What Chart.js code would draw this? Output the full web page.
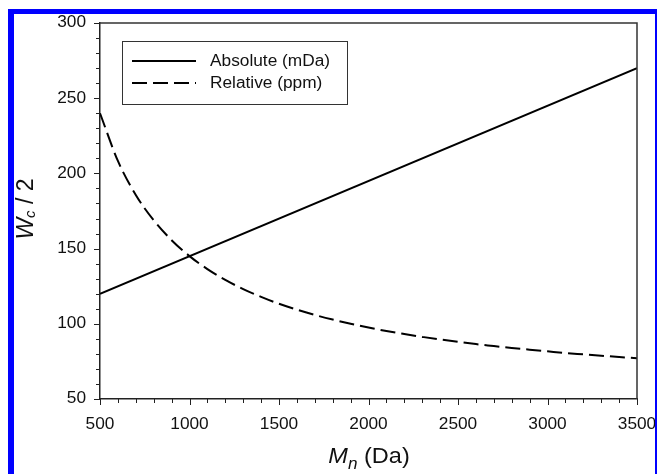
<!DOCTYPE html>
<html>
<head>
<meta charset="utf-8">
<script src="https://cdn.jsdelivr.net/npm/chart.js@4"></script>
<style>
  html, body { margin: 0; padding: 0; background: #fff; overflow: hidden; }
  #wrap { position: relative; width: 657px; height: 474px; }
  #frame {
    position: absolute; left: 8px; top: 9px; width: 641px; height: 480px;
    border-left: 6px solid #0000ff; border-top: 5px solid #0000ff; border-right: 2px solid #0000ff;
    pointer-events: none;
  }
</style>
</head>
<body>
<div id="wrap">
  <canvas id="chart" width="657" height="474"></canvas>
  <div id="frame"></div>
</div>
<script>
// mass values (Da)
const massAbs = [500, 3500];
const absolute = [120, 270]; // half width, mDa

const massRel = [500, 600, 700, 800, 900, 1000, 1100, 1200, 1300, 1400, 1500, 1600, 1700, 1800, 1900, 2000,
                 2100, 2200, 2300, 2400, 2500, 2600, 2700, 2800, 2900, 3000, 3100, 3200, 3300, 3400, 3500];
const relative = [240, 208.3, 185.7, 168.8, 155.6, 145, 136.4, 129.2, 123.1, 117.9, 113.3, 109.4, 105.9, 102.8, 100, 97.5,
                  95.2, 93.2, 91.3, 89.6, 88, 86.5, 85.2, 83.9, 82.8, 81.7, 80.6, 79.7, 78.8, 77.9, 77.1]; // ppm

const xTickLabels = [500, 1000, 1500, 2000, 2500, 3000, 3500];
const yTickLabels = [50, 100, 150, 200, 250, 300];
const legendLabels = ['Absolute (mDa)', 'Relative (ppm)'];

const FONT = 'Liberation Sans, Arial, sans-serif';
const STRETCH = 1.08; // text is drawn a bit wide

function toPoints(xs, ys) {
    return xs.map((x, i) => ({ x: x, y: ys[i] }));
}

function wideText(ctx, text, x, y, align, sx) {
    ctx.save();
    ctx.translate(x, y);
    ctx.scale(sx, 1);
    ctx.textAlign = align;
    ctx.fillText(text, 0, 0);
    ctx.restore();
}

// tick marks (major + minor), tick labels, axis titles and the boxed legend
const decorations = {
    id: 'decorations',
    afterDraw(chart) {
        const ctx = chart.ctx;
        const xs = chart.scales.x, ys = chart.scales.y;
        const area = chart.chartArea;
        ctx.save();
        ctx.strokeStyle = '#222';
        ctx.lineWidth = 1;
        ctx.beginPath();
        ys.ticks.forEach(t => {
            const py = Math.round(ys.getPixelForValue(t.value)) + 0.5;
            const len = t.value % 50 === 0 ? 6 : 4;
            ctx.moveTo(area.left - len, py);
            ctx.lineTo(area.left, py);
        });
        xs.ticks.forEach(t => {
            const px = Math.round(xs.getPixelForValue(t.value)) + 0.5;
            const len = t.value % 500 === 0 ? 6 : 4;
            ctx.moveTo(px, area.bottom);
            ctx.lineTo(px, area.bottom + len);
        });
        ctx.stroke();

        // top and right frame of the plot
        ctx.strokeStyle = '#333';
        ctx.lineWidth = 1.5;
        ctx.beginPath();
        ctx.moveTo(area.left, area.top);
        ctx.lineTo(area.right, area.top);
        ctx.lineTo(area.right, area.bottom);
        ctx.stroke();

        // tick labels
        ctx.fillStyle = '#111';
        ctx.font = '16px ' + FONT;
        ctx.textBaseline = 'alphabetic';
        xTickLabels.forEach(v => {
            wideText(ctx, String(v), xs.getPixelForValue(v), 429, 'center', STRETCH);
        });
        ctx.textBaseline = 'middle';
        yTickLabels.forEach(v => {
            wideText(ctx, String(v), 86, ys.getPixelForValue(v), 'right', STRETCH);
        });

        // y title: W_c / 2
        ctx.textBaseline = 'alphabetic';
        ctx.textAlign = 'left';
        ctx.translate(33, 209);
        ctx.rotate(-Math.PI / 2);
        const big = 'italic 23px ' + FONT, small = 'italic 15px ' + FONT, plain = '23px ' + FONT;
        ctx.font = big;
        const wW = ctx.measureText('W').width;
        ctx.font = small;
        const wc = ctx.measureText('c').width;
        ctx.font = plain;
        const wr = ctx.measureText(' / 2').width;
        let x0 = -(wW + wc + wr) / 2;
        ctx.font = big; ctx.fillText('W', x0, 0); x0 += wW;
        ctx.font = small; ctx.fillText('c', x0, 2); x0 += wc;
        ctx.font = plain; ctx.fillText(' / 2', x0, 0);
        ctx.setTransform(1, 0, 0, 1, 0, 0);

        // x title: M_n (Da)
        const xb = 'italic 22px ' + FONT, xs2 = 'italic 16px ' + FONT, xp = '22px ' + FONT;
        ctx.font = xb; const wM = ctx.measureText('M').width;
        ctx.font = xs2; const wn = ctx.measureText('n').width;
        ctx.font = xp; const wd = ctx.measureText(' (Da)').width;
        const k = 1.07;
        let x1 = 369 - k * (wM + wn + wd) / 2;
        ctx.font = xb; wideText(ctx, 'M', x1, 463, 'left', k); x1 += k * wM;
        ctx.font = xs2; wideText(ctx, 'n', x1, 469, 'left', k); x1 += k * wn;
        ctx.font = xp; wideText(ctx, ' (Da)', x1, 463, 'left', k);

        // legend box
        ctx.strokeStyle = '#333';
        ctx.lineWidth = 1;
        ctx.strokeRect(122.5, 41.5, 225, 63);
        ctx.strokeStyle = '#000';
        ctx.lineWidth = 2;
        ctx.beginPath();
        ctx.moveTo(132, 61); ctx.lineTo(196, 61);
        ctx.stroke();
        ctx.setLineDash([15, 6]);
        ctx.beginPath();
        ctx.moveTo(132, 83); ctx.lineTo(196, 83);
        ctx.stroke();
        ctx.setLineDash([]);
        ctx.font = '16px ' + FONT;
        ctx.fillStyle = '#111';
        ctx.textBaseline = 'middle';
        wideText(ctx, legendLabels[0], 210, 62, 'left', 1.08);
        wideText(ctx, legendLabels[1], 210, 84, 'left', 1.08);
        ctx.restore();
    }
};

new Chart(document.getElementById('chart'), {
    type: 'line',
    data: {
        datasets: [{
            label: legendLabels[0],
            data: toPoints(massAbs, absolute),
            borderColor: '#000',
            borderWidth: 2,
            pointRadius: 0,
            fill: false
        }, {
            label: legendLabels[1],
            data: toPoints(massRel, relative),
            borderColor: '#000',
            borderWidth: 2,
            borderDash: [15, 6],
            pointRadius: 0,
            cubicInterpolationMode: 'monotone',
            fill: false
        }]
    },
    options: {
        responsive: false,
        animation: false,
        layout: { padding: { top: 23, right: 20, left: 0, bottom: 0 } },
        plugins: {
            legend: { display: false },
            tooltip: { enabled: false }
        },
        scales: {
            x: {
                type: 'linear',
                min: 500,
                max: 3500,
                afterFit: s => { s.height = 75; },
                grid: { display: false },
                border: { display: true, color: '#222', width: 1.5 },
                ticks: { display: false, stepSize: 100, autoSkip: false }
            },
            y: {
                min: 50,
                max: 300,
                afterFit: s => { s.width = 100; },
                grid: { display: false },
                border: { display: true, color: '#222', width: 1.5 },
                ticks: { display: false, stepSize: 10, autoSkip: false }
            }
        }
    },
    plugins: [decorations]
});
</script>
</body>
</html>
